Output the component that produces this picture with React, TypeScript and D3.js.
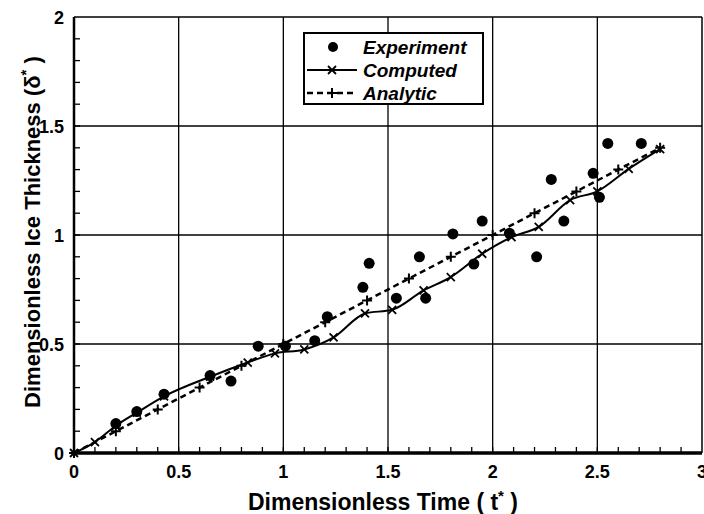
import React from "react";
import * as d3 from "d3";

// experiment points (t*, delta*)
const expT = [0.2, 0.3, 0.43, 0.65, 0.75, 0.88, 1.01, 1.15, 1.21, 1.38, 1.41, 1.54, 1.65, 1.68, 1.81, 1.91, 1.95, 2.08, 2.21, 2.28, 2.34, 2.48, 2.51, 2.55, 2.71];
const expV = [0.135, 0.19, 0.27, 0.355, 0.33, 0.49, 0.49, 0.515, 0.625, 0.76, 0.87, 0.71, 0.9, 0.71, 1.005, 0.867, 1.064, 1.008, 0.9, 1.255, 1.064, 1.283, 1.173, 1.42, 1.42];

// computed (solid line, x markers)
const compT = [0, 0.1, 0.2, 0.3, 0.43, 0.65, 0.83, 0.96, 1.1, 1.24, 1.39, 1.52, 1.67, 1.8, 1.95, 2.09, 2.22, 2.37, 2.5, 2.65, 2.8];
const compV = [0, 0.05, 0.125, 0.185, 0.26, 0.35, 0.415, 0.457, 0.475, 0.53, 0.64, 0.657, 0.746, 0.807, 0.914, 0.99, 1.037, 1.16, 1.2, 1.303, 1.394];

// analytic (dashed line, + markers)
const anaT = [0, 0.2, 0.4, 0.6, 0.8, 1.0, 1.2, 1.4, 1.6, 1.8, 2.0, 2.2, 2.4, 2.6, 2.8];
const anaV = [0, 0.1, 0.2, 0.3, 0.4, 0.5, 0.6, 0.7, 0.8, 0.9, 1.0, 1.1, 1.2, 1.3, 1.4];

const xTicks = [0, 0.5, 1, 1.5, 2, 2.5, 3];
const yTicks = [0, 0.5, 1, 1.5, 2];
const legendItems = ["Experiment", "Computed", "Analytic"];

const W = 704;
const H = 514;
const FONT = "'Liberation Sans', Arial, Helvetica, sans-serif";

export default function App() {
    const ref = React.useRef<SVGSVGElement>(null);

    React.useEffect(() => {
        const svg = d3.select(ref.current);
        svg.selectAll("*").remove();

        const x = d3.scaleLinear().domain([0, 3]).range([74, 702]);
        const y = d3.scaleLinear().domain([0, 2]).range([453, 17]);

        const g = svg.append("g");

        // grid lines
        g.selectAll(".vgrid")
            .data(xTicks.filter((d) => d > 0 && d < 3))
            .enter()
            .append("line")
            .attr("x1", (d) => x(d))
            .attr("x2", (d) => x(d))
            .attr("y1", y(0))
            .attr("y2", y(2))
            .attr("stroke", "#000")
            .attr("stroke-width", 1.3);
        g.selectAll(".hgrid")
            .data(yTicks.filter((d) => d > 0 && d < 2))
            .enter()
            .append("line")
            .attr("x1", x(0))
            .attr("x2", x(3))
            .attr("y1", (d) => y(d))
            .attr("y2", (d) => y(d))
            .attr("stroke", "#000")
            .attr("stroke-width", 1.3);

        // frame top + right
        g.append("line")
            .attr("x1", x(0)).attr("x2", x(3))
            .attr("y1", y(2)).attr("y2", y(2))
            .attr("stroke", "#000").attr("stroke-width", 1.5);
        g.append("line")
            .attr("x1", x(3)).attr("x2", x(3))
            .attr("y1", y(2)).attr("y2", y(0))
            .attr("stroke", "#000").attr("stroke-width", 1.5);

        // minor ticks (inward)
        const minorX = d3.range(1, 30).map((i) => i / 10);
        const minorY = d3.range(1, 20).map((i) => i / 10);
        g.selectAll(".mx")
            .data(minorX)
            .enter()
            .append("line")
            .attr("x1", (d) => x(d))
            .attr("x2", (d) => x(d))
            .attr("y1", y(0))
            .attr("y2", y(0) - 6)
            .attr("stroke", "#000")
            .attr("stroke-width", 1.3);
        g.selectAll(".my")
            .data(minorY)
            .enter()
            .append("line")
            .attr("x1", x(0))
            .attr("x2", x(0) + 6)
            .attr("y1", (d) => y(d))
            .attr("y2", (d) => y(d))
            .attr("stroke", "#000")
            .attr("stroke-width", 1.3);

        // axes lines
        g.append("line")
            .attr("x1", x(0)).attr("x2", x(0))
            .attr("y1", y(2)).attr("y2", y(0))
            .attr("stroke", "#000").attr("stroke-width", 2.5);
        g.append("line")
            .attr("x1", x(0) - 1).attr("x2", x(3))
            .attr("y1", y(0)).attr("y2", y(0))
            .attr("stroke", "#000").attr("stroke-width", 3.5);

        // tick labels
        g.selectAll(".xl")
            .data(xTicks)
            .enter()
            .append("text")
            .attr("x", (d) => x(d))
            .attr("y", 478)
            .attr("text-anchor", "middle")
            .attr("font-family", FONT)
            .attr("font-weight", "bold")
            .attr("font-size", 18)
            .text((d) => String(d));
        g.selectAll(".yl")
            .data(yTicks)
            .enter()
            .append("text")
            .attr("x", 64)
            .attr("y", (d) => y(d) + 6.5)
            .attr("text-anchor", "end")
            .attr("font-family", FONT)
            .attr("font-weight", "bold")
            .attr("font-size", 18)
            .text((d) => String(d));

        // axis titles
        const xt = g.append("text")
            .attr("x", 383)
            .attr("y", 510)
            .attr("text-anchor", "middle")
            .attr("font-family", FONT)
            .attr("font-weight", "bold")
            .attr("font-size", 23);
        xt.append("tspan").text("Dimensionless Time ( t");
        xt.append("tspan").attr("dy", -9).attr("font-size", 15).text("*");
        xt.append("tspan").attr("dy", 9).text(" )");

        const yt = g.append("text")
            .attr("transform", "translate(40,232) rotate(-90)")
            .attr("text-anchor", "middle")
            .attr("font-family", FONT)
            .attr("font-weight", "bold")
            .attr("font-size", 22);
        yt.append("tspan").text("Dimensionless Ice Thickness (\u03b4");
        yt.append("tspan").attr("dy", -9).attr("font-size", 15).text("*");
        yt.append("tspan").attr("dy", 9).text(" )");

        // analytic dashed line
        const anaData = anaT.map((t, i) => [t, anaV[i]] as [number, number]);
        g.append("path")
            .datum(anaData)
            .attr("fill", "none")
            .attr("stroke", "#000")
            .attr("stroke-width", 2.5)
            .attr("stroke-dasharray", "6,4")
            .attr("d", d3.line().x((d) => x(d[0])).y((d) => y(d[1])));
        g.selectAll(".plus")
            .data(anaData)
            .enter()
            .append("path")
            .attr("d", (d) => {
                const cx = x(d[0]);
                const cy = y(d[1]);
                return `M${cx - 5},${cy}H${cx + 5}M${cx},${cy - 5}V${cy + 5}`;
            })
            .attr("stroke", "#000")
            .attr("stroke-width", 2);

        // computed solid line
        const compData = compT.map((t, i) => [t, compV[i]] as [number, number]);
        g.append("path")
            .datum(compData)
            .attr("fill", "none")
            .attr("stroke", "#000")
            .attr("stroke-width", 2)
            .attr("d", d3.line().x((d) => x(d[0])).y((d) => y(d[1])).curve(d3.curveMonotoneX));
        g.selectAll(".cross")
            .data(compData)
            .enter()
            .append("path")
            .attr("d", (d) => {
                const cx = x(d[0]);
                const cy = y(d[1]);
                return `M${cx - 4},${cy - 4}L${cx + 4},${cy + 4}M${cx - 4},${cy + 4}L${cx + 4},${cy - 4}`;
            })
            .attr("stroke", "#000")
            .attr("stroke-width", 1.8);

        // experiment dots
        g.selectAll(".dot")
            .data(expT.map((t, i) => [t, expV[i]]))
            .enter()
            .append("circle")
            .attr("cx", (d) => x(d[0]))
            .attr("cy", (d) => y(d[1]))
            .attr("r", 5.5)
            .attr("fill", "#000");

        // legend
        const lg = g.append("g");
        lg.append("rect")
            .attr("x", 304)
            .attr("y", 33)
            .attr("width", 179)
            .attr("height", 71)
            .attr("fill", "#fff")
            .attr("stroke", "#000")
            .attr("stroke-width", 2);
        legendItems.forEach((name, i) => {
            const ly = 47 + i * 23;
            if (i === 0) {
                lg.append("circle").attr("cx", 333).attr("cy", ly).attr("r", 5).attr("fill", "#000");
            } else if (i === 1) {
                lg.append("line").attr("x1", 307).attr("x2", 357).attr("y1", ly).attr("y2", ly)
                    .attr("stroke", "#000").attr("stroke-width", 2);
                lg.append("path")
                    .attr("d", `M328,${ly - 4}L336,${ly + 4}M328,${ly + 4}L336,${ly - 4}`)
                    .attr("stroke", "#000").attr("stroke-width", 1.8);
            } else {
                lg.append("line").attr("x1", 307).attr("x2", 357).attr("y1", ly).attr("y2", ly)
                    .attr("stroke", "#000").attr("stroke-width", 2.5).attr("stroke-dasharray", "6,4");
                lg.append("path")
                    .attr("d", `M327,${ly}H337M332,${ly - 5}V${ly + 5}`)
                    .attr("stroke", "#000").attr("stroke-width", 2);
            }
            lg.append("text")
                .attr("x", 363)
                .attr("y", ly + 7)
                .attr("font-family", FONT)
                .attr("font-weight", "bold")
                .attr("font-style", "italic")
                .attr("font-size", 19)
                .text(name);
        });
    }, []);

    return (
        <svg
            ref={ref}
            width={W}
            height={H}
            style={{ position: "absolute", left: 0, top: 0, background: "#fff" }}
        />
    );
}
